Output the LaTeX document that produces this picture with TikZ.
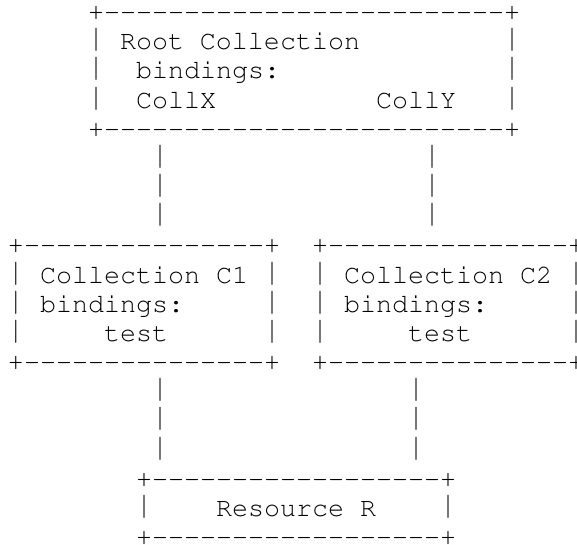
\documentclass[tikz,border=0pt]{standalone}
\usepackage[T1]{fontenc}
\usepackage{courier}
\usepackage{graphicx}
\lineskiplimit=-30pt
\newcommand\dashrow[1]{+\foreach\d in {1,...,#1}{-}+}
\newcommand\vbar{\raisebox{2pt}{\scalebox{1}[1.2]{|}}}
\begin{document}
\begin{tikzpicture}[x=16pt,y=-29.17pt]
	\tikzset{every node/.style={inner sep=0pt,outer sep=0pt,anchor=base west,align=left,font=\fontsize{26.67pt}{29.17pt}\selectfont\ttfamily}}
	\tikzset{link/.style={}}
	\useasboundingbox (-8pt,20.5pt) rectangle (569pt,-523.5pt);
	% boxes (placed by their last line)
	\node (root) at (5,4) {\dashrow{25}\\\vbar~Root~Collection~~~~~~~~~\vbar\\\vbar~~bindings:~~~~~~~~~~~~~~\vbar\\\vbar~~CollX~~~~~~~~~~CollY~~~\vbar\\\dashrow{25}};
	\node (c1) at (0,12) {\dashrow{15}\\\vbar~Collection~C1~\vbar\\\vbar~bindings:~~~~~\vbar\\\vbar~~~~~test~~~~~~\vbar\\\dashrow{15}};
	\node (c2) at (19,12) {\dashrow{15}\\\vbar~Collection~C2~\vbar\\\vbar~bindings:~~~~~\vbar\\\vbar~~~~~test~~~~~~\vbar\\\dashrow{15}};
	\node (res) at (8,18) {\dashrow{18}\\\vbar~~~~Resource~R~~~~\vbar\\\dashrow{18}};
	% links
	\node[link] (rootc1) at (9,7) {\vbar\\\vbar\\\vbar};
	\node[link] (rootc2) at (26,7) {\vbar\\\vbar\\\vbar};
	\node[link] (c1res) at (9,15) {\vbar\\\vbar\\\vbar};
	\node[link] (c2res) at (25,15) {\vbar\\\vbar\\\vbar};
\end{tikzpicture}
\end{document}
